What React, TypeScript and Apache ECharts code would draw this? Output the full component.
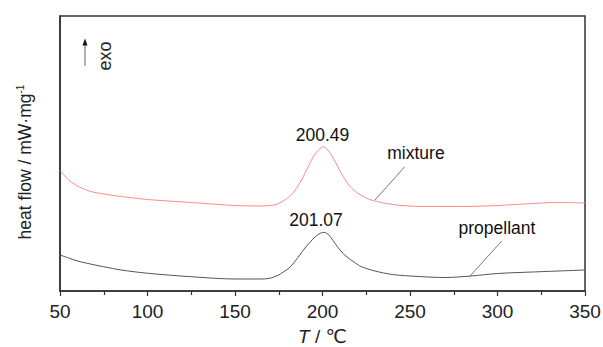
import React, { useEffect, useRef } from "react";
import * as echarts from "echarts";

// Temperatures (°C) and heat flow (arbitrary mW/mg units)
const mixtureT = [50, 55, 60, 65, 70, 75, 85, 100, 125, 150, 165, 172, 175, 180, 184, 188, 192, 195, 198, 200.5, 203, 205, 208, 211, 215, 220, 227, 235, 245, 260, 280, 300, 320, 335, 350];
const mixtureHF = [4.82, 4.44, 4.2, 4.04, 3.94, 3.88, 3.78, 3.66, 3.54, 3.42, 3.4, 3.44, 3.5, 3.72, 4.0, 4.44, 5.0, 5.4, 5.66, 5.77, 5.64, 5.44, 5.08, 4.68, 4.24, 3.92, 3.66, 3.52, 3.42, 3.38, 3.38, 3.42, 3.5, 3.54, 3.52];

const propellantT = [50, 55, 60, 70, 75, 85, 100, 125, 150, 165, 170, 175, 178, 181, 184, 187, 190, 193, 196, 199, 201, 203, 205, 207, 210, 214, 218, 222, 230, 240, 255, 270, 285, 300, 320, 350];
const propellantHF = [1.44, 1.32, 1.2, 1.04, 0.97, 0.84, 0.71, 0.57, 0.48, 0.48, 0.51, 0.64, 0.78, 0.92, 1.16, 1.44, 1.72, 1.96, 2.18, 2.32, 2.34, 2.28, 2.12, 1.92, 1.64, 1.36, 1.16, 0.98, 0.8, 0.66, 0.58, 0.54, 0.6, 0.7, 0.76, 0.84];

const xTicks = { min: 50, max: 350, interval: 50 };

// annotations: [label, T, value]
const mixtureLabels: [string, number, number][] = [
  ["200.49", 200, 6.24],
  ["mixture", 253.4, 5.52],
];
const propellantLabels: [string, number, number][] = [
  ["201.07", 196.3, 2.84],
  ["propellant", 299.7, 2.52],
];
const mixtureLeader: [number, number][] = [[230, 3.64], [247, 4.97]];
const propellantLeader: [number, number][] = [[284.3, 0.6], [302.4, 2.0]];

const FONT = "'Liberation Sans', Arial, 'DejaVu Sans', sans-serif";

export default function App() {
  const ref = useRef<HTMLDivElement>(null);
  useEffect(() => {
    if (!ref.current) return;
    const chart = echarts.init(ref.current, null, { renderer: "svg" });
    const zip = (a: number[], b: number[]) => a.map((t, i) => [t, b[i]]);
    const markPt = (labels: [string, number, number][]) => ({
      symbol: "circle",
      symbolSize: 1,
      silent: true,
      itemStyle: { color: "rgba(0,0,0,0)" },
      label: { show: true, position: "inside", formatter: (p: any) => p.name, color: "#111", fontSize: 17.5, fontFamily: FONT },
      data: labels.map(([n, x, y]) => ({ name: n, coord: [x, y] })),
    });
    const markLn = (pts: [number, number][]) => ({
      symbol: "none",
      silent: true,
      label: { show: false },
      lineStyle: { color: "#555", width: 0.8, type: "solid" },
      data: [[{ coord: pts[0] }, { coord: pts[1] }]],
    });
    chart.setOption({
      animation: false,
      grid: { left: 60, right: 18, top: 16, bottom: 56, show: true, borderColor: "#333", borderWidth: 1.5, outerBoundsMode: "none" },
      xAxis: {
        type: "value",
        min: xTicks.min,
        max: xTicks.max,
        interval: xTicks.interval,
        axisLine: { show: true, lineStyle: { color: "#333", width: 1.5 } },
        axisTick: { show: true, inside: false, length: 5, lineStyle: { color: "#333", width: 1.2 } },
        minorTick: { show: true, splitNumber: 2, length: 4, lineStyle: { color: "#333", width: 1.2 } },
        splitLine: { show: false },
        axisLabel: { color: "#222", fontSize: 19, fontFamily: FONT, margin: 11 },
        name: "{i|T}{n| / ℃}",
        nameLocation: "middle",
        nameGap: 36,
        nameTextStyle: {
          rich: {
            i: { fontStyle: "italic", fontSize: 19, color: "#222", fontFamily: FONT },
            n: { fontSize: 19, color: "#222", fontFamily: FONT },
          },
        },
      },
      yAxis: {
        type: "value",
        min: 0,
        max: 11,
        axisLine: { show: true, lineStyle: { color: "#333", width: 1.5 } },
        axisTick: { show: false },
        axisLabel: { show: false },
        splitLine: { show: false },
      },
      graphic: [
        {
          type: "text",
          x: 25,
          y: 162,
          rotation: Math.PI / 2,
          style: {
            text: "{a|heat flow / mW·mg}{s|-1}",
            align: "center",
            verticalAlign: "middle",
            rich: {
              a: { fontSize: 17.5, fill: "#222", fontFamily: FONT, lineHeight: 20 },
              s: { fontSize: 10, fill: "#222", fontFamily: FONT, verticalAlign: "top", lineHeight: 20 },
            },
          },
        },
        {
          type: "text",
          x: 105,
          y: 56,
          rotation: Math.PI / 2,
          style: { text: "exo", fontSize: 18, fill: "#222", fontFamily: FONT, align: "center", verticalAlign: "middle" },
        },
        { type: "line", shape: { x1: 85, y1: 66, x2: 85, y2: 44 }, style: { stroke: "#666", lineWidth: 1 } },
        { type: "polygon", shape: { points: [[85, 38.5], [82.5, 45.5], [87.5, 45.5]] }, style: { fill: "#111" } },
      ],
      series: [
        {
          name: "mixture",
          type: "line",
          smooth: 0.3,
          showSymbol: false,
          lineStyle: { color: "#ff8a8a", width: 1 },
          itemStyle: { color: "#ff8a8a" },
          data: zip(mixtureT, mixtureHF),
          markPoint: markPt(mixtureLabels),
          markLine: markLn(mixtureLeader),
        },
        {
          name: "propellant",
          type: "line",
          smooth: 0.3,
          showSymbol: false,
          lineStyle: { color: "#555", width: 1 },
          itemStyle: { color: "#555" },
          data: zip(propellantT, propellantHF),
          markPoint: markPt(propellantLabels),
          markLine: markLn(propellantLeader),
        },
      ],
    });
    return () => chart.dispose();
  }, []);
  return <div ref={ref} style={{ position: "fixed", left: 0, top: 0, width: 603, height: 347, background: "#fff" }} />;
}
